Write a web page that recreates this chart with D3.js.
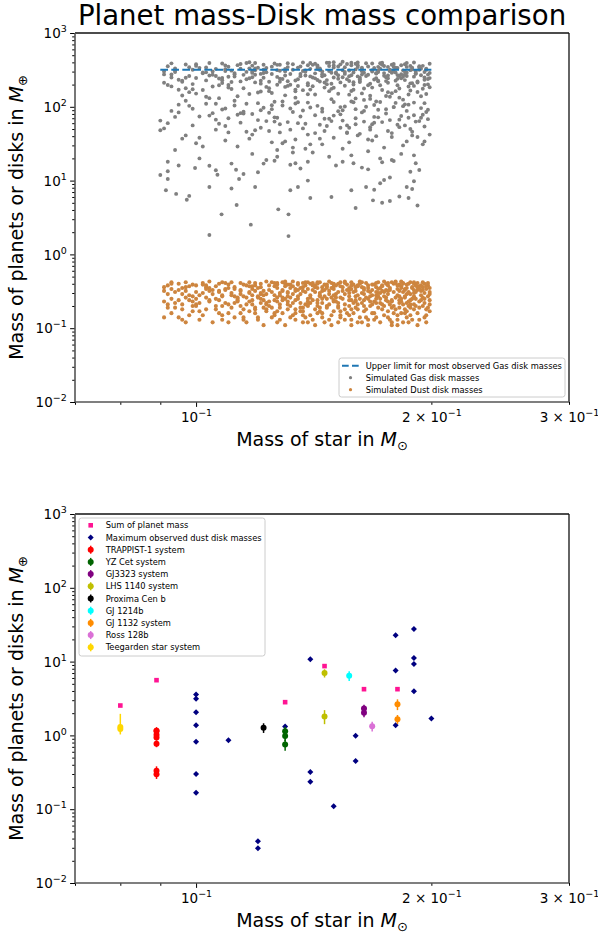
<!DOCTYPE html>
<html>
<head>
<meta charset="utf-8">
<script src="https://cdn.jsdelivr.net/npm/d3@7"></script>
<style>
  body { margin: 0; background: #fff; }
  text { font-family: "DejaVu Sans", sans-serif; fill: #000; }
</style>
</head>
<body>
<div id="chart"></div>
<script>
// ---- top panel: simulated disks, [star mass, disk mass in earth masses]
var gasDisk = [
[.091,212],[.137,305],[.164,88],[.118,251],[.195,176],[.103,342],[.149,127],[.172,389],[.126,63],[.185,274],
[.098,158],[.143,231],[.177,318],[.109,95],[.158,366],[.131,192],[.199,245],[.114,380],[.167,141],[.122,287],
[.094,330],[.153,52],[.188,208],[.106,262],[.139,114],[.171,296],[.128,371],[.182,133],[.115,178],[.161,398],
[.101,74],[.146,268],[.193,355],[.124,219],[.168,182],[.097,121],[.135,340],[.179,99],[.111,309],[.156,237],
[.189,41],[.120,156],[.151,291],[.175,223],[.104,265],[.142,383],[.197,149],[.129,104],[.163,326],[.092,197],
[.133,28],[.184,312],[.117,244],[.159,170],[.100,358],[.145,86],[.191,281],[.125,350],[.170,118],[.108,229],
[.154,407],[.198,201],[.113,139],[.140,258],[.176,347],[.095,84],[.130,186],[.166,272],[.119,392],[.187,107],
[.105,302],[.148,163],[.181,239],[.127,71],[.162,216],[.093,250],[.138,311],[.194,328],[.116,46],[.157,146],
[.173,374],[.110,198],[.144,37],[.186,290],[.123,335],[.160,93],[.099,173],[.134,227],[.178,153],[.150,403],
[.190,256],[.107,131],[.136,279],[.169,61],[.121,206],[.155,344],[.196,112],[.112,286],[.141,190],[.183,365],
[.090,65],[.147,395],[.176,243],[.119,330],[.163,152],[.102,284],[.138,59],[.192,220],[.127,370],[.158,268],
[.184,125],[.108,386],[.149,205],[.171,311],[.095,233],[.134,162],[.199,384],[.115,271],[.153,99],[.180,339],
[.123,294],[.166,36],[.097,375],[.141,249],[.188,166],[.111,217],[.160,321],[.130,143],[.174,264],[.105,188],
[.152,352],[.195,78],[.118,301],[.144,315],[.181,196],[.100,246],[.137,398],[.169,234],[.126,117],[.191,302],
[.110,349],[.157,259],[.178,44],[.132,278],[.094,296],[.165,390],[.121,161],[.186,347],[.146,213],[.103,137],
[.170,285],[.128,241],[.193,318],[.114,82],[.150,181],[.182,261],[.099,318],[.139,365],[.162,247],[.124,179],
[.196,233],[.106,110],[.143,327],[.173,169],[.131,389],[.156,56],[.091,275],[.185,299],[.117,332],[.167,205],
[.135,236],[.179,380],[.112,257],[.154,313],[.198,91],[.125,154],[.161,367],[.096,142],[.142,284],[.189,339],
[.119,214],[.164,124],[.101,337],[.148,396],[.175,252],[.129,32],[.190,192],[.109,362],[.152,240],[.183,276],
[.140,171],[.098,262],[.172,329],[.116,297],[.159,200],[.195,359],[.127,254],[.146,69],[.180,226],[.104,392],
[.133,317],[.168,301],[.093,189],[.155,279],[.187,147],[.122,372],[.144,220],[.178,289],[.107,242],[.160,130],
[.197,316],[.115,81],[.150,340],[.172,196],[.130,265],[.092,354],[.164,289],[.139,209],[.185,378],[.120,112],
[.157,224],[.103,293],[.176,158],[.136,352],[.194,267],[.111,174],[.148,305],[.168,386],[.125,278],[.182,53],
[.096,226],[.142,147],[.188,314],[.118,361],[.163,273],[.132,95],[.179,346],[.108,210],[.153,376],[.199,184],
[.128,308],[.171,222],[.100,151],[.145,259],[.190,399],[.114,329],[.159,291],[.137,168],[.183,243],[.124,47],
[.166,352],[.094,310],[.141,370],[.177,137],[.110,255],[.155,193],[.196,296],[.121,225],[.150,116],[.174,357],
[.105,272],[.135,191],[.186,262],[.117,402],[.162,237],[.143,345],[.192,159],[.099,203],[.130,326],[.169,106],
[.151,282],[.181,335],[.112,121],[.147,230],[.173,395],[.127,199],[.093,388],[.158,164],[.189,209],[.138,266],
[.116,236],[.161,345],[.198,273],[.133,377],[.170,283],[.102,169],[.145,301],[.184,102],[.122,317],[.154,251],
[.176,212],[.109,322],[.139,148],[.193,341],[.126,386],[.164,177],[.097,247],[.149,290],[.180,163],[.119,272],
[.091,301],[.128,219],[.173,374],[.146,182],[.199,288],[.113,367],[.157,311],[.185,230],[.134,133],[.165,262],
[.107,196],[.150,364],[.190,114],[.121,279],[.168,314],[.095,170],[.142,243],[.179,301],[.131,345],[.160,383],
[.187,188],[.103,228],[.138,298],[.175,140],[.116,392],[.153,214],[.196,250],[.124,163],[.163,338],[.145,277],
[.098,344],[.135,115],[.181,269],[.110,183],[.158,395],[.127,314],[.192,213],[.170,244],[.149,175],[.118,288],
[.140,327],[.177,304],[.104,131],[.162,223],[.197,329],[.122,248],[.152,150],[.186,392],[.132,199],[.167,128],
[.112,276],[.148,357],[.182,177],[.093,274],[.129,238],[.171,348],[.155,297],[.194,139],[.119,313],[.139,196],
[.161,258],[.100,378],[.136,260],[.189,321],[.125,93],[.174,286],[.144,331],[.108,246],[.158,118],[.180,292],
[.130,302],[.166,196],[.096,219],[.143,364],[.198,238],[.117,149],[.152,267],[.184,255],[.106,327],[.171,226],
[.123,186],[.156,380],[.191,282],[.134,171],[.169,336],[.102,292],[.147,202],[.178,371],[.114,221],[.163,304],
[.188,357],[.120,338],[.150,249],[.097,178],[.140,393],[.176,266],[.131,222],[.196,197],[.109,305],[.159,215],
[.101,38],[.154,27],[.186,34],[.118,42],[.167,49],[.133,24],[.195,31],[.142,44],[.109,55],[.178,39],
[.125,33],[.160,58],[.094,26],[.148,21],[.191,63],[.113,29],[.171,72],[.137,51],[.183,23],[.156,45],
[.093,88],[.131,62],[.168,35],[.112,104],[.187,71],[.146,47],[.102,29],[.159,115],[.124,83],[.196,54],
[.140,98],[.097,41],[.177,66],[.118,23],[.153,79],[.185,108],[.107,59],[.134,36],[.171,91],[.126,72],
[.162,43],[.095,107],[.149,64],[.192,39],[.115,86],[.138,27],[.181,57],[.104,76],[.157,33],[.129,118],
[.175,81],[.110,45],[.143,103],[.198,68],[.121,52],[.166,25],[.099,94],[.136,74],[.189,46],[.152,87],
[.117,37],[.180,113],[.128,58],[.160,70],[.091,51],[.145,31],[.194,96],[.106,67],[.170,40],[.133,85],
[.155,101],[.100,32],[.183,75],[.122,97],[.147,55],[.174,28],[.113,78],[.139,42],[.197,85],[.164,63],
[.127,26],[.188,50],[.108,92],[.150,38],[.172,116],[.094,73],[.135,60],[.158,22],[.119,48],[.179,99],
[.142,77],[.103,110],[.167,53],[.130,34],[.193,64],[.114,61],[.154,90],[.184,30],[.125,105],[.099,56],
[.161,41],[.137,89],[.176,47],[.109,35],[.148,69],[.190,77],[.120,66],[.165,100],[.096,37],[.144,57],
[.173,62],[.116,110],[.156,44],[.186,88],[.132,49],[.105,82],[.169,73],[.141,24],[.199,42],[.123,64],
[.101,20],[.151,16],[.178,19],[.127,21],[.163,15],[.111,17],[.190,22],[.139,18],[.095,16],[.172,20],
[.145,94],[.182,67],[.110,70],[.157,52],[.134,111],[.196,34],[.118,80],[.163,84],[.092,60],[.128,45],
[.185,56],[.150,76],[.106,49],[.175,93],[.140,31],[.121,90],[.168,58],[.098,103],[.154,65],[.194,71],
[.090,48],[.092,18],[.092,13.4],[.092,10.5],[.0915,7.4],[.090,11.9],[.0943,6.6],[.0973,5.5],[.098,6.2],[.0997,14.8],
[.104,15.9],[.106,13.8],[.1065,12],[.104,8.2],[.111,7.8],[.1125,14],[.1135,10.5],[.115,12.3],[.119,8.2],[.120,13],
[.122,17],[.123,19],[.126,18.6],[.104,1.83],[.1175,2.53],[.1078,3.49],[.1127,4.67],[.1313,1.77],[.1313,3.49],[.1274,4.08],
[.132,7.4],[.132,16.4],[.134,17.2],[.135,8.2],[.136,14.6],[.139,10],[.140,5.8],[.149,6.0],[.154,18],[.158,7.4],
[.159,17.2],[.160,4.25],[.165,8.2],[.166,14.2],[.1684,5.4],[.169,7.5],[.172,9.2],[.173,5.0],[.173,17.7],[.174,10.2],
[.177,5.3],[.177,11],[.179,18.4],[.182,6.1],[.186,8.2],[.187,5.8],[.188,13.2],[.189,7.7],[.190,9.8],[.191,17.2],
[.192,4.6],[.193,13.9]
];

var dustDisk = [
[.091,.32],[.134,.18],[.176,.41],[.112,.27],[.158,.13],[.195,.36],[.123,.22],[.147,.39],[.183,.16],[.102,.30],
[.166,.25],[.139,.42],[.098,.15],[.188,.29],[.117,.37],[.152,.20],[.129,.33],[.172,.12],[.107,.40],[.193,.23],
[.144,.28],[.120,.14],[.181,.34],[.095,.24],[.161,.38],[.136,.17],[.199,.31],[.110,.21],[.155,.43],[.127,.26],
[.178,.19],[.104,.35],[.149,.11],[.190,.40],[.131,.30],[.169,.23],[.093,.42],[.141,.33],[.115,.13],[.185,.27],
[.160,.36],[.125,.19],[.197,.15],[.108,.28],[.174,.31],[.137,.41],[.101,.22],[.153,.26],[.119,.38],[.187,.12],
[.132,.35],[.164,.17],[.096,.29],[.143,.24],[.180,.43],[.114,.32],[.156,.39],[.122,.11],[.192,.33],[.138,.21],
[.170,.28],[.106,.18],[.150,.37],[.127,.41],[.196,.25],[.099,.39],[.145,.14],[.182,.22],[.118,.34],[.163,.30],
[.135,.27],[.173,.38],[.092,.21],[.154,.32],[.129,.16],[.189,.35],[.111,.42],[.167,.20],[.140,.40],[.103,.26],
[.184,.31],[.121,.29],[.158,.24],[.097,.36],[.147,.19],[.176,.14],[.133,.43],[.198,.38],[.113,.23],[.162,.41],
[.126,.37],[.191,.20],[.105,.33],[.151,.29],[.171,.42],[.139,.12],[.094,.19],[.180,.26],[.117,.31],[.157,.35],
[.143,.22],[.109,.41],[.186,.39],[.130,.25],[.165,.14],[.100,.31],[.148,.43],[.194,.28],[.124,.20],[.175,.33],
[.155,.18],[.116,.26],[.181,.11],[.137,.36],[.093,.34],[.168,.39],[.128,.30],[.199,.21],[.146,.27],[.110,.16],
[.172,.35],[.134,.24],[.190,.42],[.103,.38],[.160,.27],[.120,.35],[.185,.18],[.142,.31],[.096,.13],[.152,.40],
[.178,.23],[.114,.29],[.164,.33],[.131,.39],[.197,.34],[.107,.24],[.144,.17],[.183,.37],[.123,.43],[.159,.22],
[.099,.27],[.138,.31],[.188,.24],[.119,.19],[.170,.41],[.150,.34],[.092,.38],[.176,.29],[.132,.14],[.195,.42],
[.112,.36],[.154,.25],[.126,.28],[.187,.31],[.141,.38],[.167,.27],[.104,.43],[.179,.16],[.135,.33],[.161,.12],
[.118,.24],[.192,.36],[.148,.21],[.097,.32],[.173,.37],[.129,.42],[.157,.30],[.108,.20],[.184,.41],[.140,.26],
[.166,.35],[.122,.32],[.198,.27],[.145,.36],[.101,.17],[.177,.21],[.136,.29],[.162,.43],[.115,.39],[.189,.25],
[.153,.15],[.095,.40],[.171,.30],[.127,.23],[.182,.32],[.143,.42],[.109,.34],[.158,.38],[.193,.13],[.133,.37],
[.175,.26],[.111,.28],[.149,.35],[.186,.22],[.124,.38],[.164,.24],[.098,.28],[.139,.20],[.196,.40],[.120,.27],
[.160,.32],[.106,.37],[.181,.28],[.144,.30],[.130,.40],[.169,.16],[.093,.25],[.155,.41],[.190,.30],[.117,.42],
[.137,.15],[.174,.43],[.102,.41],[.150,.23],[.185,.34],[.125,.31],[.163,.36],[.113,.26],[.199,.35],[.146,.39],
[.128,.21],[.179,.40],[.096,.35],[.157,.33],[.140,.28],[.188,.19],[.119,.41],[.167,.31],[.105,.29],[.152,.12],
[.191,.38],[.134,.34],[.172,.25],[.110,.39],[.148,.32],[.123,.17],[.183,.43],[.099,.23],[.161,.28],[.142,.36],
[.176,.32],[.116,.21],[.195,.26],[.131,.27],[.158,.42],[.091,.36],[.170,.22],[.138,.38],[.107,.32],[.186,.29],
[.149,.26],[.121,.40],[.165,.41],[.100,.38],[.182,.39],[.145,.25],[.127,.35],[.194,.32],[.114,.33],[.156,.16],
[.171,.34],[.136,.22],[.094,.31],[.188,.42],[.153,.37],[.129,.32],[.178,.12],[.108,.27],[.164,.29],[.141,.41],
[.197,.18],[.118,.37],[.159,.39],[.103,.36],[.174,.27],[.132,.39],[.190,.33],[.122,.24],[.150,.28],[.180,.41],
[.111,.30],[.143,.35],[.185,.26],[.126,.15],[.166,.38],[.097,.42],[.157,.24],[.135,.41],[.193,.37],[.119,.32],
[.162,.40],[.104,.32],[.177,.35],[.139,.25],[.198,.41],[.128,.28],[.152,.31],[.115,.27],[.183,.23],[.147,.37],
[.092,.29],[.168,.33],[.133,.29],[.189,.36],[.121,.36],[.160,.19],[.101,.28],[.175,.40],[.144,.27],[.196,.30],
[.125,.42],[.154,.36],[.112,.34],[.171,.27],[.137,.32],[.186,.35],[.098,.37],[.163,.42],[.130,.37],[.179,.31],
[.146,.33],[.117,.17],[.192,.41],[.151,.26],[.106,.25],[.170,.36],[.140,.22],[.182,.27],[.123,.29],[.158,.34],
[.199,.29],[.132,.26],[.165,.26],[.095,.33],[.149,.41],[.184,.40],[.114,.41],[.173,.32],[.127,.39],[.155,.29],
[.108,.42],[.142,.38],[.187,.30],[.120,.26],[.161,.37],[.136,.35],[.194,.38],[.100,.21],[.168,.28],[.145,.32],
[.176,.38],[.131,.31],[.093,.40],[.157,.27],[.116,.38],[.190,.27],[.138,.42],[.172,.30],[.110,.35],[.151,.38],
[.124,.33],[.185,.33],[.148,.29],[.103,.34],[.166,.32],[.129,.26],[.197,.37],[.143,.40],[.118,.28],[.178,.42],
[.159,.31],[.097,.26],[.135,.39],[.181,.38],[.121,.30],[.153,.42],[.191,.31],[.107,.31],[.169,.39],[.139,.34],
[.113,.25],[.164,.35],[.126,.41],[.177,.33],[.147,.35],[.195,.33],[.102,.39],[.134,.32],[.187,.40],[.156,.33],
[.170,.31],[.122,.28],[.144,.42],[.183,.35],[.109,.33],[.162,.25],[.130,.43],[.150,.40],[.193,.34],[.117,.30],
[.096,.18],[.141,.13],[.188,.15],[.127,.12],[.173,.18],[.112,.14],[.158,.11],[.199,.17],[.134,.16],[.181,.13],
[.105,.12],[.150,.17],[.192,.11],[.119,.16],[.166,.13],[.137,.19],[.091,.14],[.176,.17],[.128,.13],[.161,.18],
[.145,.16],[.184,.21],[.100,.20],[.132,.20],[.171,.19],[.115,.18],[.155,.21],[.196,.22],[.123,.18],[.142,.18],
[.109,.22],[.163,.22],[.139,.23],[.178,.24],[.094,.22],[.152,.22],[.187,.20],[.126,.24],[.168,.21],[.114,.20],
[.131,.23],[.174,.20],[.104,.24],[.147,.25],[.190,.21],[.121,.22],[.160,.23],[.099,.20],[.136,.19],[.182,.19],
[.093,.16],[.139,.21],[.181,.15],[.116,.12],[.160,.24],[.198,.19],[.127,.17],[.148,.13],[.172,.22],[.104,.23],
[.186,.17],[.121,.25],[.153,.14],[.097,.12],[.168,.16],[.134,.13],[.194,.24],[.111,.19],[.143,.20],[.177,.13],
[.130,.11],[.164,.20],[.102,.15],[.190,.18],[.150,.24],[.118,.21],[.183,.25],[.137,.17],[.096,.21],[.157,.15],
[.125,.14],[.175,.24],[.108,.13],[.145,.22],[.196,.14],[.133,.22],[.166,.11],[.114,.16],[.187,.23],[.152,.19],
[.099,.17],[.141,.24],[.179,.20],[.120,.13],[.162,.14],[.106,.20],[.192,.16],[.128,.19],[.170,.25],[.146,.12],
[.091,.23],[.135,.25],[.184,.12],[.113,.24],[.158,.18],[.197,.12],[.124,.23],[.174,.15],[.140,.15],[.103,.18],
[.167,.23],[.131,.18],[.189,.13],[.117,.23],[.155,.13],[.095,.14],[.180,.18],[.144,.19],[.110,.12],[.161,.21],
[.126,.16],[.193,.19],[.149,.15],[.173,.21],[.100,.25],[.137,.12],[.185,.16],[.119,.18],[.163,.12],[.199,.24],
[.129,.24],[.157,.20],[.107,.16],[.176,.23],[.142,.11],[.092,.19],[.188,.21],[.115,.14],[.151,.23],[.170,.14],
[.133,.15],[.195,.20],[.122,.19],[.165,.18],[.101,.13],[.147,.20],[.182,.24],[.112,.22],[.138,.14],[.159,.16],
[.098,.24],[.178,.11],[.123,.21],[.153,.17],[.191,.25],[.108,.15],[.143,.16],[.169,.13],[.131,.21],[.186,.14]
];

// upper limit for observed gas disks (1 Jupiter mass), over the simulated star-mass range
var gasLimitStar = [0.09, 0.2];
var gasLimitMass = 318;

// ---- bottom panel: observed systems
var sumStar = [0.08, 0.089, 0.13, 0.146, 0.164, 0.181];
var sumMass = [2.54, 5.6, 2.82, 8.69, 4.23, 4.23];

var dustStar = [0.1, 0.1, 0.1, 0.1, 0.1, 0.1, 0.1, 0.11, 0.12, 0.12, 0.13, 0.14, 0.14, 0.14, 0.15,
  0.16, 0.16, 0.18, 0.18, 0.18, 0.19, 0.19, 0.19, 0.19, 0.2];
var dustMass = [3.58, 3.13, 2.06, 1.37, 0.82, 0.30, 0.167, 0.86, 0.0368, 0.0296, 1.32, 10.8, 0.32, 0.236, 0.110,
  0.99, 0.45, 22.7, 7.6, 1.37, 27.7, 11.2, 9.25, 3.98, 1.69];

var systemNames = ["TRAPPIST-1 system", "YZ Cet system", "GJ3323 system", "LHS 1140 system", "Proxima Cen b",
  "GJ 1214b", "GJ 1132 system", "Ross 128b", "Teegarden star system"];
var systemStar = [0.089, 0.13, 0.164, 0.146, 0.122, 0.157, 0.181, 0.168, 0.08];
var planetMass = [
  [1.017, 1.156, 0.297, 0.772, 0.934, 1.148, 0.331],
  [0.75, 0.98, 1.14],
  [2.02, 2.31],
  [6.98, 1.81],
  [1.27],
  [6.43],
  [2.64, 1.66],
  [1.33],
  [1.30, 1.22]
];
// [lower, upper] error
var planetErr = [
  [[.15,.15],[.14,.14],[.04,.04],[.08,.08],[.08,.08],[.1,.1],[.05,.05]],
  [[.13,.13],[.14,.14],[.17,.17]],
  [[.26,.26],[.3,.3]],
  [[.89,.89],[.39,.39]],
  [[.19,.19]],
  [[.98,.98]],
  [[.44,.44],[.23,.23]],
  [[.2,.2]],
  [[.2,.66],[.19,.2]]
];
var systemColors = ["red", "darkgreen", "purple", "#bfbf00", "black", "cyan", "darkorange", "orchid", "gold"];

// ---- axes
var xDomain = [0.07, 0.3];
var yDomain = [0.01, 1000];
var xMajorTicks = [0.1];
var xMinorTicks = [0.07, 0.08, 0.09, 0.2, 0.3];
var xTickLabels = [[0.1, "", "−1"], [0.2, "2 × ", "−1"], [0.3, "3 × ", "−1"]];
var yMajorTicks = [0.01, 0.1, 1, 10, 100, 1000];
var yTickLabels = ["−2", "−1", "0", "1", "2", "3"];

var W = 598, H = 936;
var left = 75, right = 569;

var svg = d3.select("#chart").append("svg")
  .attr("width", W)
  .attr("height", H);

function yMinor(){
  var t = [];
  for (var e = -2; e < 3; e++)
    for (var m = 2; m < 10; m++) t.push(m * Math.pow(10, e));
  return t;
}

function sup(text, base, exp){
  text.text(base);
  text.append("tspan").attr("dy", -6).style("font-size", "9.5px").text(exp);
}

function drawAxes(g, x, y){
  var y0 = y.range()[0], y1 = y.range()[1];

  // x ticks
  g.append("g").attr("transform", "translate(0," + y0 + ")")
    .call(d3.axisBottom(x).tickValues(xMajorTicks).tickSize(4.9).tickSizeOuter(0).tickFormat(""))
    .call(a => a.select(".domain").remove());
  g.append("g").attr("transform", "translate(0," + y0 + ")")
    .call(d3.axisBottom(x).tickValues(xMinorTicks).tickSize(2.8).tickSizeOuter(0).tickFormat(""))
    .call(a => a.select(".domain").remove());
  var xl = g.append("g").attr("transform", "translate(0," + y0 + ")")
    .call(d3.axisBottom(x).tickValues(xTickLabels.map(d => d[0])).tickSize(0).tickSizeOuter(0).tickFormat(""));
  xl.select(".domain").remove();
  xl.selectAll(".tick text")
    .attr("y", 19.5).attr("dy", null)
    .style("font-size", "13.5px")
    .each(function(d, i){ sup(d3.select(this), xTickLabels[i][1] + "10", xTickLabels[i][2]); });

  // y ticks
  g.append("g").attr("transform", "translate(" + left + ",0)")
    .call(d3.axisLeft(y).tickValues(yMajorTicks).tickSize(4.9).tickSizeOuter(0).tickFormat(""))
    .call(a => a.select(".domain").remove());
  g.append("g").attr("transform", "translate(" + left + ",0)")
    .call(d3.axisLeft(y).tickValues(yMinor()).tickSize(2.8).tickSizeOuter(0).tickFormat(""))
    .call(a => a.select(".domain").remove());
  var yl = g.append("g").attr("transform", "translate(" + left + ",0)")
    .call(d3.axisLeft(y).tickValues(yMajorTicks).tickSize(0).tickSizeOuter(0).tickFormat(""));
  yl.select(".domain").remove();
  yl.selectAll(".tick text")
    .attr("x", -8.2).attr("dy", 4.6)
    .style("font-size", "13.5px")
    .each(function(d, i){ sup(d3.select(this), "10", yTickLabels[i]); });

  g.selectAll(".tick line").attr("stroke", "#000").attr("stroke-width", 1);

  // spines
  g.append("line").attr("x1", left).attr("x2", right).attr("y1", y1).attr("y2", y1)
    .attr("stroke", "#111").attr("stroke-width", 1.3);
  g.append("line").attr("x1", right).attr("x2", right).attr("y1", y1).attr("y2", y0)
    .attr("stroke", "#111").attr("stroke-width", 1.3);
  g.append("line").attr("x1", left).attr("x2", left).attr("y1", y1).attr("y2", y0)
    .attr("stroke", "#555").attr("stroke-width", 1.6);
  g.append("line").attr("x1", left).attr("x2", right).attr("y1", y0).attr("y2", y0)
    .attr("stroke", "#555").attr("stroke-width", 1.6);

  // axis labels
  var xt = g.append("text")
    .attr("x", (left + right) / 2).attr("y", y0 + 44)
    .attr("text-anchor", "middle")
    .style("font-size", "19px")
    .text("Mass of star in ");
  xt.append("tspan").style("font-style", "italic").text("M");
  xt.append("tspan").attr("dy", 4).style("font-size", "13px").text("⊙");

  var yt = g.append("text")
    .attr("transform", "translate(23," + (y0 + y1) / 2 + ") rotate(-90)")
    .attr("text-anchor", "middle")
    .style("font-size", "19px")
    .text("Mass of planets or disks in ");
  yt.append("tspan").style("font-style", "italic").text("M");
  yt.append("tspan").attr("dy", 4).style("font-size", "13px").text("⊕");
}

function legendBox(g, x0, y0, w, h){
  g.append("rect")
    .attr("x", x0).attr("y", y0).attr("width", w).attr("height", h)
    .attr("rx", 2.5)
    .attr("fill", "#fff").attr("fill-opacity", 0.8)
    .attr("stroke", "#ccc").attr("stroke-width", 1);
}

// ---- title
svg.append("text")
  .attr("x", (left + right) / 2).attr("y", 25)
  .attr("text-anchor", "middle")
  .style("font-size", "27.6px")
  .text("Planet mass-Disk mass comparison");

// ---- top panel
var xTop = d3.scaleLog().domain(xDomain).range([left, right]);
var yTop = d3.scaleLog().domain(yDomain).range([402, 33]);
var topPanel = svg.append("g");

topPanel.append("g").selectAll("circle")
  .data(gasDisk)
  .enter().append("circle")
  .attr("cx", d => xTop(d[0]))
  .attr("cy", d => yTop(d[1]))
  .attr("r", 1.95)
  .attr("fill", "grey");

topPanel.append("g").selectAll("circle")
  .data(dustDisk)
  .enter().append("circle")
  .attr("cx", d => xTop(d[0]))
  .attr("cy", d => yTop(d[1]))
  .attr("r", 2.05)
  .attr("fill", "peru");

topPanel.append("line")
  .attr("x1", xTop(gasLimitStar[0])).attr("x2", xTop(gasLimitStar[1]))
  .attr("y1", yTop(gasLimitMass)).attr("y2", yTop(gasLimitMass))
  .attr("stroke", "#1f77b4").attr("stroke-width", 2.1)
  .attr("stroke-dasharray", "7.7,3.3");

drawAxes(topPanel, xTop, yTop);

// top legend
var topLegend = ["Upper limit for most observed Gas disk masses", "Simulated Gas disk masses", "Simulated Dust disk masses"];
var tl = topPanel.append("g");
legendBox(tl, 339, 358, 226, 39);
tl.append("line")
  .attr("x1", 342).attr("x2", 359).attr("y1", 365.7).attr("y2", 365.7)
  .attr("stroke", "#1f77b4").attr("stroke-width", 2.1)
  .attr("stroke-dasharray", "6.7,3.3");
tl.append("circle").attr("cx", 350.5).attr("cy", 377.7).attr("r", 1.6).attr("fill", "grey");
tl.append("circle").attr("cx", 350.5).attr("cy", 389.7).attr("r", 1.6).attr("fill", "peru");
tl.selectAll("text.lg")
  .data(topLegend)
  .enter().append("text")
  .attr("class", "lg")
  .attr("x", 365.7)
  .attr("y", (d, i) => 365.7 + i * 12 + 3)
  .style("font-size", "8.3px")
  .text(d => d);

// ---- bottom panel
var xBot = d3.scaleLog().domain(xDomain).range([left, right]);
var yBot = d3.scaleLog().domain(yDomain).range([883, 514]);
var botPanel = svg.append("g");

function diamond(s){
  return "M0," + (-s) + "L" + s + ",0L0," + s + "L" + (-s) + ",0Z";
}

botPanel.append("g").selectAll("rect")
  .data(sumStar)
  .enter().append("rect")
  .attr("x", d => xBot(d) - 2.3)
  .attr("y", (d, i) => yBot(sumMass[i]) - 2.3)
  .attr("width", 4.6).attr("height", 4.6)
  .attr("fill", "deeppink");

botPanel.append("g").selectAll("path")
  .data(dustStar)
  .enter().append("path")
  .attr("d", diamond(3))
  .attr("transform", (d, i) => "translate(" + xBot(d) + "," + yBot(dustMass[i]) + ")")
  .attr("fill", "navy");

systemStar.forEach(function(star, k){
  var pts = planetMass[k].map((m, j) => ({m: m, lo: planetErr[k][j][0], hi: planetErr[k][j][1]}));
  var sg = botPanel.append("g");
  sg.selectAll("line")
    .data(pts)
    .enter().append("line")
    .attr("x1", xBot(star)).attr("x2", xBot(star))
    .attr("y1", d => yBot(d.m - d.lo)).attr("y2", d => yBot(d.m + d.hi))
    .attr("stroke", systemColors[k]).attr("stroke-width", 1.5);
  sg.selectAll("circle")
    .data(pts)
    .enter().append("circle")
    .attr("cx", xBot(star))
    .attr("cy", d => yBot(d.m))
    .attr("r", 3)
    .attr("fill", systemColors[k]);
});

drawAxes(botPanel, xBot, yBot);

// bottom legend
var bl = botPanel.append("g");
legendBox(bl, 79, 518, 186, 138);
var botLegend = ["Sum of planet mass", "Maximum observed dust disk masses"].concat(systemNames);
var ly = i => 525.3 + i * 12.2;
bl.append("rect").attr("x", 90.7 - 2.3).attr("y", ly(0) - 2.3).attr("width", 4.6).attr("height", 4.6).attr("fill", "deeppink");
bl.append("path").attr("d", diamond(3)).attr("transform", "translate(90.7," + ly(1) + ")").attr("fill", "navy");
systemColors.forEach(function(c, k){
  var yy = ly(k + 2);
  bl.append("line").attr("x1", 90.7).attr("x2", 90.7).attr("y1", yy - 4).attr("y2", yy + 4)
    .attr("stroke", c).attr("stroke-width", 1.5);
  bl.append("circle").attr("cx", 90.7).attr("cy", yy).attr("r", 3).attr("fill", c);
});
bl.selectAll("text.lg")
  .data(botLegend)
  .enter().append("text")
  .attr("class", "lg")
  .attr("x", 105.7)
  .attr("y", (d, i) => ly(i) + 3)
  .style("font-size", "8.3px")
  .text(d => d);
</script>
</body>
</html>
